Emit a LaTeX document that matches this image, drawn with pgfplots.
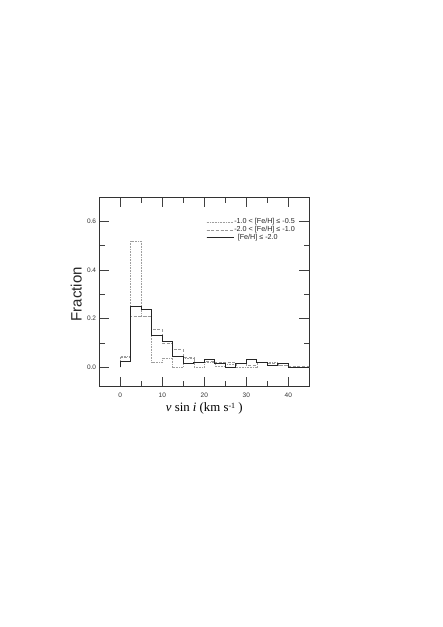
\documentclass[border=0pt]{standalone}
\usepackage{fontspec}
\setmainfont{Liberation Sans}
\newfontfamily\timesfont{Liberation Serif}
\usepackage{pgfplots}
\usepackage{pgfplotstable}
\pgfplotsset{compat=1.18}
\pgfplotstableread{
x y
0 0
2.5 0.045
5 0.52
7.5 0.21
10 0.02
12.5 0.038
15 0.0
17.5 0.035
20 0.0
22.5 0.02
25 0.005
27.5 0.012
30 0.0
32.5 0.0
35 0.02
37.5 0.02
40 0.01
42.5 0.0
45 0.0
}\dotted
\pgfplotstableread{
x y
0 0
2.5 0.04
5 0.21
7.5 0.21
10 0.155
12.5 0.10
15 0.072
17.5 0.04
20 0.02
22.5 0.025
25 0.02
27.5 0.02
30 0.015
32.5 0.01
35 0.02
37.5 0.015
40 0.01
42.5 0.005
45 0.005
}\dashedtab
\pgfplotstableread{
x y
0 0
2.5 0.022
5 0.252
7.5 0.238
10 0.129
12.5 0.105
15 0.045
17.5 0.015
20 0.021
22.5 0.031
25 0.014
27.5 0.0
30 0.015
32.5 0.031
35 0.021
37.5 0.008
40 0.015
42.5 0.0
45 0.0
}\solidtab
\begin{document}
\begin{tikzpicture}
\path[use as bounding box, fill=white] (0,0) rectangle (443pt,627pt);
\begin{axis}[
  at={(99.3pt,240.3pt)}, anchor=south west,
  scale only axis, width=210pt, height=189.4pt,
  xmin=-5, xmax=45, ymin=-0.08, ymax=0.7,
  xtick={0,10,20,30,40}, minor xtick={-5,5,15,25,35,45},
  ytick={0,0.2,0.4,0.6}, minor ytick={0.1,0.3,0.5},
  tick align=inside,
  major tick length=10pt, minor tick length=5.5pt,
  axis line style={black!80, line width=0.8pt},
  every tick/.style={black!75, line width=0.8pt},
  tick label style={font=\fontsize{6.5}{7}\selectfont, text=black!80},
  /pgf/number format/assume math mode=true,
  yticklabel style={/pgf/number format/fixed, /pgf/number format/fixed zerofill, /pgf/number format/precision=1, inner xsep=0pt, xshift=-3pt},
  xticklabel style={inner ysep=0pt, yshift=-6.5pt},
  xlabel={{\timesfont\itshape v}{\timesfont\ sin }{\timesfont\itshape i}{\timesfont\ (km s\raisebox{0.55ex}{\fontsize{8}{8}\selectfont -1}\ )}},
  xlabel style={at={(axis description cs:0.5,-0.132)}, anchor=base, font=\fontsize{12.8}{14}\selectfont},
  ylabel={Fraction},
  ylabel style={at={(axis description cs:-0.0838,0.489)}, anchor=base, font=\fontsize{15}{17}\selectfont, text=black!85},
  legend style={at={(axis description cs:0.508,0.888)}, anchor=north west,
    draw=none, fill=none, inner sep=0pt, row sep=1.6pt,
    font=\fontsize{7.2}{7.2}\selectfont, text=black!85,
    nodes={inner sep=0pt, text height=4.9pt, text depth=1.5pt}},
  legend cell align=left,
  legend image code/.code={\draw[#1] (0pt,0pt) -- (14pt,0pt); \path (0pt,0pt) -- (27pt,0pt);},
  clip=true,
]
\addplot[const plot mark right, black!38, line width=0.6pt, dash pattern=on 0.8pt off 0.8pt] table[x=x,y=y] {\dotted};
\addlegendentry{-1.0 < [Fe/H] ≤ -0.5}
\addplot[const plot mark right, black!40, line width=0.6pt, dash pattern=on 3pt off 1.6pt] table[x=x,y=y] {\dashedtab};
\addlegendentry{-2.0 < [Fe/H] ≤ -1.0}
\addplot[const plot mark right, black!85, line width=1.1pt] table[x=x,y=y] {\solidtab};
\addlegendentry{\hspace{3.5pt}[Fe/H] ≤ -2.0}
\end{axis}
\end{tikzpicture}
\end{document}
